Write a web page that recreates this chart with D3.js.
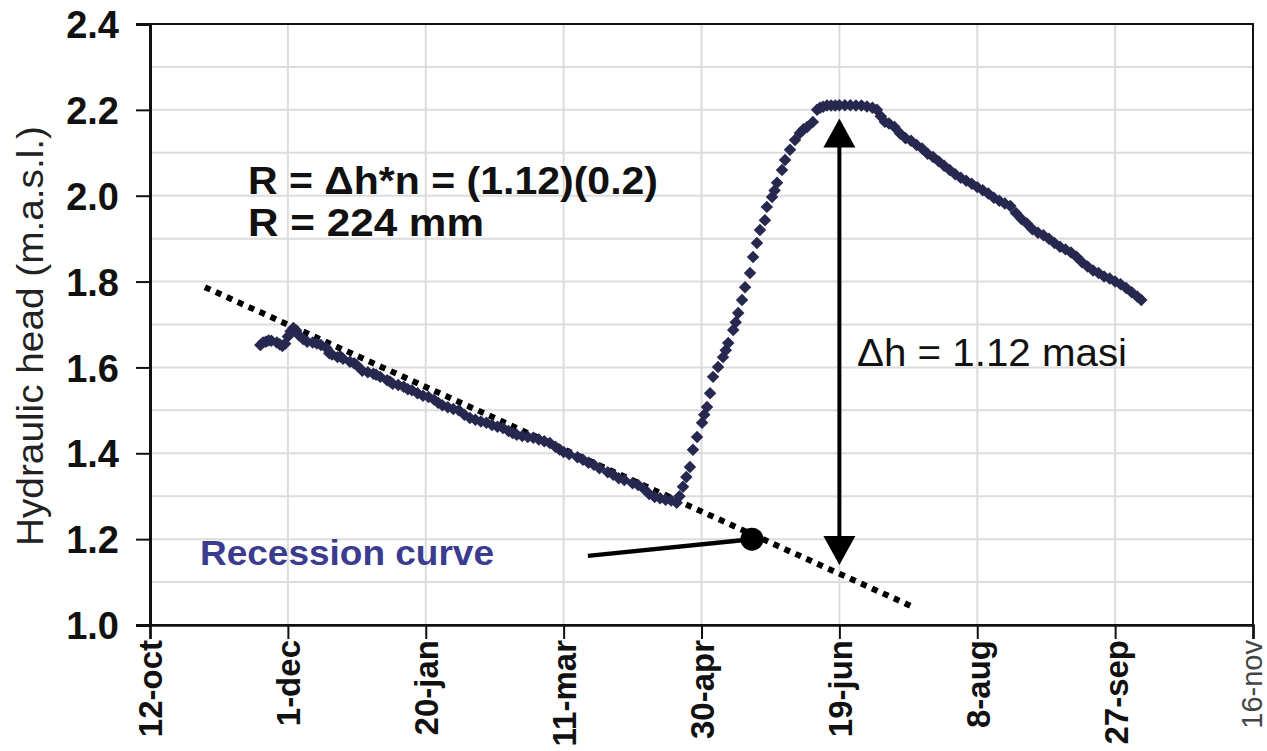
<!DOCTYPE html>
<html>
<head>
<meta charset="utf-8">
<script src="https://cdn.jsdelivr.net/npm/d3@7"></script>
<style>
  body { margin: 0; background: #fff; }
  text { font-family: "Liberation Sans", Arial, sans-serif; }
</style>
</head>
<body>
<svg id="chart" width="1267" height="751"></svg>
<script>
// day offsets counted from 12-oct (start of the x axis)
var xTickDays = [0, 50, 100, 150, 200, 250, 300, 350, 400];
var xTickLabels = ["12-oct", "1-dec", "20-jan", "11-mar", "30-apr", "19-jun", "8-aug", "27-sep", "16-nov"];
var yTicks = [1.0, 1.2, 1.4, 1.6, 1.8, 2.0, 2.2, 2.4];

// winter recession
var recessionDays = [40, 41, 42, 43, 44, 46, 47, 48, 49, 50, 51, 52, 53, 54, 55.5, 57, 59, 60.5, 62, 64, 65, 66, 68, 69, 70, 72.5, 74, 75, 77, 79, 81, 82, 83.5, 86, 87, 88, 90, 92, 93.5, 95, 97, 99, 101, 103, 104.5, 106, 108, 110, 112, 114, 116, 118, 120, 122, 124, 126, 128, 130, 131.5, 133, 135, 137, 139, 141, 143, 145, 147, 148.5, 150, 152, 155, 157, 159, 161, 163, 166, 168, 170, 172, 175, 177, 179, 181, 183, 185, 187, 189, 191];
var recessionHead = [1.652, 1.658, 1.660, 1.663, 1.662, 1.658, 1.654, 1.650, 1.655, 1.672, 1.684, 1.692, 1.686, 1.675, 1.666, 1.660, 1.658, 1.656, 1.652, 1.645, 1.633, 1.630, 1.624, 1.626, 1.620, 1.613, 1.610, 1.605, 1.592, 1.589, 1.585, 1.583, 1.578, 1.570, 1.567, 1.562, 1.559, 1.555, 1.549, 1.547, 1.540, 1.534, 1.531, 1.525, 1.518, 1.512, 1.507, 1.503, 1.500, 1.490, 1.482, 1.478, 1.474, 1.471, 1.466, 1.462, 1.459, 1.452, 1.447, 1.443, 1.440, 1.438, 1.436, 1.432, 1.428, 1.424, 1.415, 1.409, 1.403, 1.398, 1.391, 1.385, 1.378, 1.373, 1.365, 1.356, 1.350, 1.342, 1.338, 1.330, 1.326, 1.318, 1.305, 1.298, 1.295, 1.292, 1.290, 1.285];

// spring rise
var riseDays = [192, 193.3, 194.5, 195.8, 196.9, 198.4, 200.2, 201, 202, 203.1, 204.2, 206, 207.8, 208.8, 209.7, 211.5, 212.4, 213.3, 214.7, 215.8, 217.6, 218.7, 220.1, 221.2, 223, 223.7, 225.6, 226.5, 227.4, 229.2, 230.3, 232.1, 233.9, 235.7, 237, 238.3, 240.4, 241.9, 243, 244.1];
var riseHead = [1.300, 1.322, 1.345, 1.368, 1.408, 1.438, 1.471, 1.490, 1.508, 1.540, 1.578, 1.601, 1.624, 1.640, 1.657, 1.687, 1.705, 1.727, 1.757, 1.787, 1.820, 1.857, 1.890, 1.920, 1.943, 1.974, 1.997, 2.012, 2.030, 2.060, 2.083, 2.107, 2.130, 2.146, 2.155, 2.160, 2.172, 2.200, 2.205, 2.207];

// summer peak and decline
var fallDays = [245.5, 247, 248.5, 250, 252, 254, 256, 258, 260, 262, 263.6, 265, 266.5, 268, 270, 272, 274, 276, 278, 280, 282, 284, 286, 288, 290, 292, 294, 296, 298, 300, 302, 304, 306, 308, 310, 312, 314, 316, 318, 320, 322, 324, 326, 328, 330, 332, 334, 336, 338, 340, 342, 344, 346, 348, 350, 352, 354, 356, 358, 359.5];
var fallHead = [2.210, 2.210, 2.210, 2.211, 2.211, 2.211, 2.210, 2.210, 2.208, 2.205, 2.200, 2.185, 2.172, 2.168, 2.160, 2.145, 2.134, 2.128, 2.118, 2.110, 2.098, 2.090, 2.080, 2.070, 2.060, 2.050, 2.042, 2.035, 2.028, 2.020, 2.013, 2.005, 1.995, 1.988, 1.982, 1.976, 1.960, 1.946, 1.935, 1.922, 1.914, 1.908, 1.900, 1.890, 1.881, 1.875, 1.868, 1.858, 1.845, 1.835, 1.826, 1.820, 1.812, 1.807, 1.800, 1.794, 1.785, 1.775, 1.765, 1.757];

// annotations, in data units [day, head]
var recessionLine = [[19.9, 1.787], [276.7, 1.042]];
var deltaArrow = [[250, 1.14], [250, 2.18]];
var calloutLine = [[158.8, 1.161], [218.3, 1.2]];

var svg = d3.select("#chart"),
    plotLeft = 150, plotTop = 24, plotRight = 1253, plotBottom = 625;

var base = Date.UTC(2010, 9, 12);
function dayDate(d) { return new Date(base + d * 864e5); }

var x = d3.scaleUtc().domain([dayDate(0), dayDate(400)]).range([plotLeft, plotRight]);
var y = d3.scaleLinear().domain([1.0, 2.4]).range([plotBottom, plotTop]);

var points = [];
recessionDays.forEach(function(d, i) { points.push([d, recessionHead[i]]); });
riseDays.forEach(function(d, i) { points.push([d, riseHead[i]]); });
fallDays.forEach(function(d, i) { points.push([d, fallHead[i]]); });

// grid
var grid = svg.append("g").attr("stroke", "#dcdcdc").attr("stroke-width", 2);
d3.range(10, 25).forEach(function(v) {
    grid.append("line")
        .attr("x1", plotLeft).attr("x2", plotRight)
        .attr("y1", y(v / 10)).attr("y2", y(v / 10));
});
xTickDays.forEach(function(d) {
    grid.append("line")
        .attr("x1", x(dayDate(d))).attr("x2", x(dayDate(d)))
        .attr("y1", plotTop).attr("y2", plotBottom);
});

// frame
svg.append("rect")
   .attr("x", plotLeft).attr("y", plotTop)
   .attr("width", plotRight - plotLeft).attr("height", plotBottom - plotTop)
   .attr("fill", "none").attr("stroke", "#111").attr("stroke-width", 2);

// y axis
var yAxis = svg.append("g")
   .attr("transform", "translate(" + plotLeft + ",0)")
   .call(d3.axisLeft(y).tickValues(yTicks).tickFormat(d3.format(".1f")).tickSize(14).tickPadding(17));
yAxis.select(".domain").attr("stroke-width", 3).attr("stroke", "#111");
yAxis.selectAll(".tick line").attr("stroke-width", 2).attr("stroke", "#111");
yAxis.selectAll(".tick text")
     .attr("font-size", "38px").attr("font-weight", "bold").attr("fill", "#111")
     .attr("dy", "0.36em");

// x axis
var last = xTickLabels.length - 1;
var xAxis = svg.append("g")
   .attr("transform", "translate(0," + plotBottom + ")")
   .call(d3.axisBottom(x).tickValues(xTickDays.map(dayDate))
       .tickFormat(function(d, i) { return xTickLabels[i]; }).tickSize(14));
xAxis.select(".domain").attr("stroke-width", 2.5).attr("stroke", "#111");
xAxis.selectAll(".tick line").attr("stroke-width", 2).attr("stroke", "#111");
xAxis.selectAll(".tick text")
     .attr("transform", "rotate(-90)")
     .attr("x", -15).attr("y", 0)
     .attr("dy", function(d, i) { return i === last ? "0.28em" : "0.36em"; })
     .attr("text-anchor", "end")
     .attr("font-size", function(d, i) { return i === last ? "29px" : "33px"; })
     .attr("font-weight", function(d, i) { return i === last ? "normal" : "bold"; })
     .attr("fill", function(d, i) { return i === last ? "#444" : "#111"; });

// y title
svg.append("text")
   .attr("transform", "translate(43,336) rotate(-90)")
   .attr("text-anchor", "middle")
   .attr("font-size", "37px")
   .attr("fill", "#222")
   .attr("textLength", 420).attr("lengthAdjust", "spacingAndGlyphs")
   .text("Hydraulic head (m.a.s.l.)");

function px(p) { return [x(dayDate(p[0])), y(p[1])]; }

// recession curve (dotted)
svg.append("line")
   .attr("x1", px(recessionLine[0])[0]).attr("y1", px(recessionLine[0])[1])
   .attr("x2", px(recessionLine[1])[0]).attr("y2", px(recessionLine[1])[1])
   .attr("stroke", "#000").attr("stroke-width", 6).attr("stroke-dasharray", "6 6");

// observations
svg.append("g").selectAll("path")
   .data(points)
   .enter().append("path")
   .attr("d", d3.symbol(d3.symbolSquare, 78))
   .attr("transform", function(d) { return "translate(" + px(d) + ") rotate(45)"; })
   .attr("fill", "#26284f");

// callout to recession curve
svg.append("line")
   .attr("x1", px(calloutLine[0])[0]).attr("y1", px(calloutLine[0])[1])
   .attr("x2", px(calloutLine[1])[0]).attr("y2", px(calloutLine[1])[1])
   .attr("stroke", "#000").attr("stroke-width", 4.5);
svg.append("circle")
   .attr("cx", px(calloutLine[1])[0]).attr("cy", px(calloutLine[1])[1])
   .attr("r", 11.5).attr("fill", "#000");

// delta h arrow
var a0 = px(deltaArrow[0]), a1 = px(deltaArrow[1]);
svg.append("line")
   .attr("x1", a0[0]).attr("y1", a0[1] - 25)
   .attr("x2", a1[0]).attr("y2", a1[1] + 25)
   .attr("stroke", "#000").attr("stroke-width", 4);
svg.append("path")
   .attr("d", "M" + a1[0] + "," + a1[1] + "l-16,29h32z").attr("fill", "#000");
svg.append("path")
   .attr("d", "M" + a0[0] + "," + a0[1] + "l-16,-29h32z").attr("fill", "#000");

// texts
svg.append("text")
   .attr("x", 248).attr("y", 194)
   .attr("font-size", "38px").attr("font-weight", "bold").attr("fill", "#111")
   .attr("textLength", 410).attr("lengthAdjust", "spacingAndGlyphs")
   .text("R = \u0394h*n = (1.12)(0.2)");
svg.append("text")
   .attr("x", 248).attr("y", 236)
   .attr("font-size", "38px").attr("font-weight", "bold").attr("fill", "#111")
   .attr("textLength", 236).attr("lengthAdjust", "spacingAndGlyphs")
   .text("R = 224 mm");
svg.append("text")
   .attr("x", 857).attr("y", 366)
   .attr("font-size", "38px").attr("fill", "#111")
   .attr("textLength", 270).attr("lengthAdjust", "spacingAndGlyphs")
   .text("\u0394h = 1.12 masi");
svg.append("text")
   .attr("x", 200).attr("y", 565)
   .attr("font-size", "35px").attr("font-weight", "bold").attr("fill", "#3b3b8f")
   .attr("textLength", 294).attr("lengthAdjust", "spacingAndGlyphs")
   .text("Recession curve");
</script>
</body>
</html>
